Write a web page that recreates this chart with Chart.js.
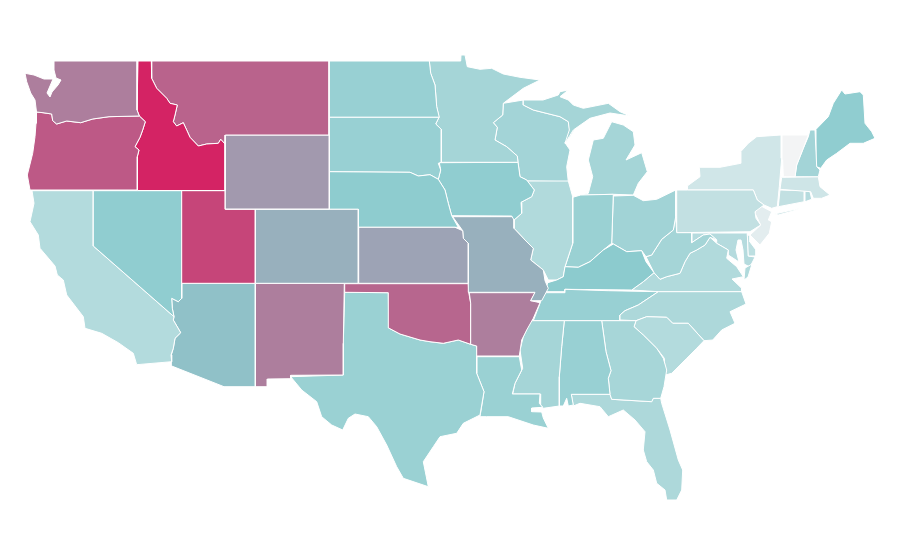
<!DOCTYPE html>
<html>
<head>
<meta charset="utf-8">
<title>US states choropleth</title>
<script src="https://cdn.jsdelivr.net/npm/chart.js@4"></script>
<style>
  html, body { margin: 0; padding: 0; background: #fff; }
  canvas { display: block; }
</style>
</head>
<body>
<canvas id="map" width="900" height="560" aria-label="Map of the United States with states coloured by value"></canvas>
<script>
"use strict";

const stateNames = ["WA","OR","ID","MT","WY","UT","NV","CA","AZ","CO","NM","KS","NE","SD","ND","MN","IA","MO","AR","OK","TX","LA","MS","AL","GA","FL","SC","NC","TN","KY","IL","IN","OH","MI","WI","WV","VA","PA","NY","VT","NH","ME","MA","CT","RI","NJ","DE","MD"];
const stateValues = [73,84,100,81,65,90,48,31,53,58,73,62,49,44,44,38,48,58,73,80,43,43,38,44,37,34,31,34,44,50,32,43,40,38,39,38,32,24,17,0,39,48,18,24,30,8,26,30];

// Colour ramp: value stops and their colours

const rampValues = [0, 50, 100];
const rampColours = [[243,244,245],[140,203,206],[212,35,100]];

// State outlines in map units, one or more rings per state, same order as stateNames

const stateOutlines = [
  [[[54,61],[137.3,61],[137,110],[139.3,116],[109,116.7],[92.7,119],[80.7,122.7],[66.7,121],[56.7,124],[52.7,120.7],[51.7,114],[43,112.7],[36.5,112],[35,100],[30.7,93],[26.7,81.7],[25,73.3],[34,75],[44,79],[53,79],[50,86],[47,93],[50,97],[52,92],[58,85],[61,80],[56,78],[54,70]]],
  [[[36.5,112],[43,112.7],[51.7,114],[52.7,120.7],[56.7,124],[66.7,121],[80.7,122.7],[92.7,119],[109,116.7],[139.3,116],[145.3,121.7],[142.7,130],[140,137.3],[135,146.7],[139,150],[137.3,156.7],[137.3,190],[30,190],[27.3,175],[32.7,153.3],[35,136.7],[36,123.3]]],
  [[[138,61],[151.3,61],[151.7,78.3],[156.7,88.3],[166.7,98.3],[170,103.3],[177.3,105],[175,115],[173.3,121.7],[176.7,126],[183.3,122.7],[186.7,130],[190,137.3],[198.3,146],[206.7,144],[218.3,143.3],[220.7,139.3],[225,144],[225,190.5],[137.3,190.5],[137.3,156.7],[139,150],[135,146.7],[140,137.3],[142.7,130],[145.3,121.7],[139.3,116],[137,110]]],
  [[[151.3,61],[329,61],[329,135],[225.3,135],[225,144],[220.7,139.3],[218.3,143.3],[206.7,144],[198.3,146],[190,137.3],[186.7,130],[183.3,122.7],[176.7,126],[173.3,121.7],[175,115],[177.3,105],[170,103.3],[166.7,98.3],[156.7,88.3],[151.7,78.3]]],
  [[[225.3,135],[329.3,135],[329.3,209],[225.3,209]]],
  [[[181.7,190.7],[225.3,190.7],[225.3,209.3],[255.3,209.3],[255.3,283.3],[181.7,283.3]]],
  [[[93.3,190.7],[181.7,190.7],[181.7,298.3],[178.3,301.7],[171.7,298.3],[172.3,308.3],[174,316.7],[93.3,246]]],
  [[[32,190.7],[93.3,190.7],[93.3,246],[174,316.7],[173.3,320],[180.7,332.7],[175,338.3],[173.3,348.3],[171,355],[171.7,361.7],[136.7,364.7],[133.3,353.3],[118.3,342.7],[101.7,333.3],[85,328.3],[83.3,316.7],[66.7,295],[63.3,280],[57.3,275],[55,266],[40,248.3],[38.3,235],[30,221.7],[34,203.3]]],
  [[[181.7,283.3],[255.3,283.3],[255.3,386.7],[224,386.7],[171.7,366],[171.7,361.7],[171,355],[173.3,348.3],[175,338.3],[180.7,332.7],[173.3,320],[174,316.7],[172.3,308.3],[171.7,298.3],[178.3,301.7],[181.7,298.3]]],
  [[[255.3,209.3],[358.3,209.3],[358.3,283.3],[255.3,283.3]]],
  [[[255.3,283.3],[344.3,283.3],[343.3,343.3],[343.3,375],[290.7,375.3],[290.7,378.7],[267.3,379],[267.3,386.7],[255.3,386.7]]],
  [[[358.7,227.3],[455,227.3],[462.7,230.7],[463.3,238.3],[468.3,243.3],[468.3,283.3],[358.7,283.3]]],
  [[[329,171.7],[410,172.3],[418.3,176],[430,174.7],[438.3,179.3],[445,190],[448.3,203.3],[451.7,215.7],[458.3,227.3],[358.7,227.3],[358.3,209.3],[329.3,209.3]]],
  [[[329,117.3],[439,117.3],[435.7,124],[441.3,129.3],[441.3,162.3],[438.3,163.3],[440.7,170],[438.3,179.3],[430,174.7],[418.3,176],[410,172.3],[329,171.7]]],
  [[[329,61],[429.3,61],[430.7,73.3],[435,85],[436.7,106.7],[439.3,117.3],[329,117.3]]],
  [[[429.3,61],[460.7,61],[461,55],[465,55],[467.3,66.7],[480,69.3],[491.7,68.3],[503.3,74],[520,77.3],[540,80],[523.3,88.3],[503.3,103.3],[502.7,115],[493.3,122.7],[497.3,127.3],[495,140],[506.7,146.7],[517.3,156],[518,162.3],[441.3,162.3],[441.3,129.3],[435.7,124],[439,117.3],[436.7,106.7],[435,85],[430.7,73.3]]],
  [[[439.3,162.7],[518,162.3],[520,176.7],[526.7,180],[534.3,190],[531.7,196.7],[521,202.3],[521.7,213.3],[514,220],[511.7,216],[451.7,215.7],[448.3,203.3],[445,190],[438.3,179.3],[440.7,170]]],
  [[[452.7,216.7],[514,216.7],[514,228.3],[525,240],[533.3,248.3],[530.7,260],[543.3,270],[545,280.7],[548.3,288.3],[541.7,300.7],[530.7,300.7],[535,292.3],[468.7,292.3],[468.3,243.3],[463.3,238.3],[462.7,230.7]]],
  [[[469.3,292.7],[535,292.7],[530.7,300.7],[540,302.7],[533.3,318.3],[526.7,330],[521.7,340],[519.3,356],[476.7,356],[476.7,346],[470.7,344.3],[470.7,303.3]]],
  [[[344.7,283.7],[468.3,283.7],[468.7,292.3],[470.7,303.3],[470.7,344.3],[458.3,340],[443.3,343.3],[430,341.7],[420,340],[400,334],[388.7,328],[388.3,292.7],[344.7,292.3]]],
  [[[344.7,292.3],[388.3,292.7],[388.7,328],[400,334],[420,340],[430,341.7],[443.3,343.3],[458.3,340],[470.7,344.3],[476.7,346],[476.7,373.3],[484,391.7],[480,415],[463.3,423.3],[456.7,433.3],[440,436.7],[433.3,446.7],[423.3,461.7],[428.3,486.7],[403.3,478.3],[396.7,466.7],[386.7,445],[376.7,426.7],[368.3,416.7],[355,414],[348.3,418.3],[342.7,430],[331.7,425],[321.7,416.7],[316.7,401.7],[301.7,390],[290.7,376.7],[343.3,375],[343.3,343.3]]],
  [[[476.7,356.7],[519.3,356.7],[521.7,370],[515,383.3],[512.3,394],[540,394],[539.3,403.3],[542.7,407.3],[531.7,408],[531.7,411.7],[541.7,412],[543.3,418],[548.3,428.3],[533.3,425],[508.3,416.7],[486.7,416.7],[480,416.7],[484,391.7],[476.7,373.3]]],
  [[[530.7,320.7],[564.3,320.7],[561.7,346.7],[559.3,376.7],[559.3,406],[543.3,408.3],[540.7,405],[540.7,394],[512.7,394],[515,383.3],[522.7,368.3],[520,350],[523.3,336.7]]],
  [[[564.3,320.7],[601.7,320.7],[606,351.7],[611,370.7],[608.3,378.3],[610,394.3],[571.3,394.3],[573.3,405],[568.3,406],[566.7,398.3],[563.3,406],[559.3,406],[559.3,376.7],[561.7,346.7]]],
  [[[601.7,320.7],[636,320.7],[634,326.7],[643.3,335],[656.7,348.3],[663.3,358.3],[666.7,370],[664,386.7],[660.7,398.3],[653.3,398.3],[651.7,401.7],[611.7,399.3],[610,394.3],[608.3,378.3],[611,370.7],[606,351.7]]],
  [[[571.3,394.3],[610,394.3],[611.7,399.3],[651.7,401.7],[653.3,398.3],[660.7,398.3],[661.7,403.3],[670,430],[678.3,460],[682.7,470],[681.7,490],[676.7,500],[666.7,500],[665,490],[656.7,483.3],[653.3,470],[646.7,461.7],[643.3,450],[645,431.7],[635,420],[623.3,410],[608.3,416.7],[600,406.7],[580,403.3],[573.3,406]]],
  [[[636,320.7],[646.7,316.7],[666.7,317.3],[672.7,323.3],[688.3,323.3],[704,340.7],[696.7,348.3],[686.7,358.3],[671.7,373.3],[665.3,375],[664.3,358.3],[656.7,348.3],[643.3,335],[634,326.7]]],
  [[[620,320],[620,315],[625,310.7],[638.3,305],[658.3,291.7],[741.7,291.7],[746,304],[730,311.7],[735,323.3],[721.7,330],[712.7,340],[704,340.7],[688.3,323.3],[672.7,323.3],[666.7,317.3],[646.7,316.7],[636,320.7]]],
  [[[543.3,292.7],[565,292.7],[565,289.3],[608.3,290.7],[658.3,291.7],[638.3,305],[625,310.7],[620,315],[620,320.7],[533.3,320.7],[540,303.3]]],
  [[[545,291.7],[547.7,282.7],[556.7,280],[563.3,276.7],[565,266.7],[578.3,267.3],[590,261.7],[603.3,250],[613.3,244],[626.7,251.7],[641.7,250.7],[646,261.7],[654,272.7],[643.3,281.7],[631.7,290],[565,289.3],[565,291.7]]],
  [[[527.3,181],[568.3,181],[572.7,196.7],[572.7,243.3],[565,266.7],[563.3,276.7],[556.7,280],[548.3,280],[543.3,270],[530.7,260],[533.3,248.3],[525,240],[514,228.3],[514,220],[521.7,213.3],[521,202.3],[531.7,196.7],[534.3,190]]],
  [[[572.7,197.3],[580.7,195],[613.3,194.3],[611.7,243.3],[603.3,250],[590,261.7],[578.3,267.3],[565,266.7],[572.7,243.3]]],
  [[[613.3,196],[633.3,195.3],[643.3,200.7],[656.7,199.3],[675.7,190],[675.7,216.7],[673.3,230],[661.7,239.3],[651.7,255],[646,256.7],[641.7,250.7],[626.7,251.7],[613.3,244],[611.7,243.3]]],
  [[[580.7,195],[588.3,193.3],[592.7,176.7],[588.3,160],[593.3,140],[603.3,138.3],[611.7,121.7],[623.3,125],[633.3,131.7],[635,145],[626,160],[641.7,152.7],[647.3,171.7],[638.3,183.3],[633.3,195],[613.3,194.3]],
   [[523.3,100],[543,100],[558.3,95],[560,91.7],[568.3,90],[560,96.7],[568.3,100],[573.3,105],[583.3,108.3],[608.3,103.3],[620,111.7],[630,116],[610,113],[590,118.3],[573.3,130],[565,143.3],[569.3,130],[568.3,121.7],[560,116.7],[533.3,110],[523.3,105]]],
  [[[503.3,103.3],[523.3,100],[523.3,105],[533.3,110],[560,116.7],[568.3,121.7],[570,131.7],[579.3,121.7],[570,136.7],[565,142.7],[570,150],[566.7,166.7],[568.3,181.7],[527.3,181],[526.7,180],[520,176.7],[518,162.3],[517.3,156],[506.7,146.7],[495,140],[497.3,127.3],[493.3,122.7],[502.7,115]]],
  [[[646,256.7],[651.7,255],[661.7,239.3],[673.3,230],[675.7,216.7],[676.7,232.7],[691.7,232.7],[691.7,242.7],[703.3,235],[710,234],[716.7,240],[710,237.3],[705,245],[696.7,250],[690,253.3],[685,261.7],[680,273.3],[666.7,276.7],[660,279.3],[654,272.7]]],
  [[[631.7,290],[643.3,281.7],[654,272.7],[660,279.3],[666.7,276.7],[680,273.3],[685,261.7],[690,253.3],[696.7,250],[705,245],[710,237.3],[716.7,243.3],[728.3,250],[726.7,258.3],[736.7,266.7],[743.3,276.7],[732,279],[741.7,288.3],[741.7,291.7],[658.3,291.7]],
   [[745,268],[752,264],[748,277],[744,280]]],
  [[[676.7,190],[687.3,190],[753.3,190],[757.3,200],[764,205],[755,211.7],[756,218.3],[760.7,225],[750,231.7],[676.7,232.7]]],
  [[[687.3,186],[687.3,190],[753.3,190],[757.3,200],[764,205],[771.7,208.3],[777.3,206.7],[779.3,186.7],[781.7,158.3],[781,135],[756.7,136.7],[748.3,143.3],[740.7,151.7],[740.7,163.3],[720,167.3],[699.3,167.3],[700,176.7],[690,184]],
   [[774,214],[800,208.3],[793,211],[778.3,215]]],
  [[[782,135],[808.3,135],[803.3,148.3],[796.7,165],[795,176.7],[783.3,176.7],[782.7,160]]],
  [[[810,130],[815,130],[816.7,166.7],[820,170],[818.3,176.7],[795,176.7],[796.7,165],[803.3,148.3],[808.3,136.7]]],
  [[[816,129.3],[828.3,116.7],[833.3,103.3],[841.7,90],[845,94],[860,91.7],[863.3,95],[865,123.3],[871.7,131.7],[875,138.3],[863.3,143.3],[850,143.3],[836.7,153.3],[826.7,160],[820.7,168.3],[816.7,166.7]]],
  [[[781.7,177.3],[818.3,176.7],[820,186.7],[830,195],[821.7,198.3],[813.3,198.3],[810.7,191.7],[780,189.3]]],
  [[[780,190],[804.3,190.7],[804.3,201.7],[778.3,206.7]]],
  [[[805,191],[810,191.7],[811.7,199.3],[805,201.7]]],
  [[[757.3,204],[771.7,211.7],[768.3,220],[771.7,221.7],[769.3,233.3],[760,245],[750,235],[760.7,225],[755,213.3]]],
  [[[747.3,234],[750,236.7],[750,242],[756,250],[756,256],[748.3,256]]],
  [[[691.7,233],[747.3,233],[748.3,256],[755,257],[750,267],[744,264],[743,250],[741,240],[738,240],[736,250],[739,262],[728.3,255],[728.3,250],[716.7,243.3],[716.7,240],[710,234],[703.3,235],[691.7,242.7]]],
];

function colourFor(value) {
  let i = value <= rampValues[1] ? 0 : 1;
  let t = (value - rampValues[i]) / (rampValues[i + 1] - rampValues[i]);
  let c = rampColours[i].map((low, k) => Math.round(low + (rampColours[i + 1][k] - low) * t));
  return `rgb(${c[0]}, ${c[1]}, ${c[2]})`;
}

// One filled scatter line per ring

let datasets = [];
for (let i = 0; i < stateNames.length; i++) {
  for (let ring of stateOutlines[i]) {
    let points = ring.map((p) => ({ x: p[0], y: p[1] }));
    points.push(points[0]);
    datasets.push({
      label: stateNames[i],
      data: points,
      showLine: true,
      tension: 0,
      fill: "shape",
      backgroundColor: colourFor(stateValues[i]),
      borderColor: "#ffffff",
      borderWidth: 1,
      pointRadius: 0,
      pointHoverRadius: 0,
    });
  }
}

new Chart(document.getElementById("map"), {
  type: "scatter",
  data: { datasets: datasets },
  options: {
    responsive: false,
    animation: false,
    layout: { padding: 0 },
    plugins: { legend: { display: false }, title: { display: false }, tooltip: { enabled: false } },
    scales: {
      x: { type: "linear", min: 0, max: 900, display: false },
      y: { type: "linear", min: 0, max: 560, reverse: true, display: false },
    },
  },
});
</script>
</body>
</html>
